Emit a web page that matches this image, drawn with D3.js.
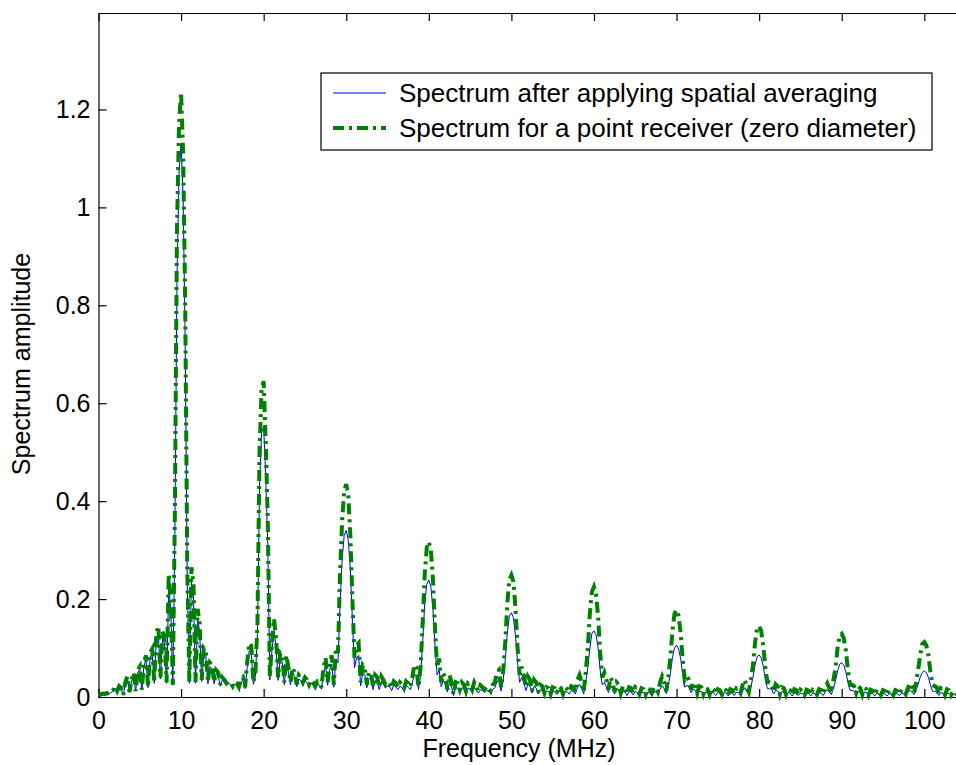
<!DOCTYPE html>
<html>
<head>
<meta charset="utf-8">
<script src="https://cdn.jsdelivr.net/npm/d3@7"></script>
<style>
  html, body { margin: 0; padding: 0; background: #fff; }
  svg { display: block; }
  text { font-family: "Liberation Sans", Arial, Helvetica, sans-serif; fill: #000; }
</style>
</head>
<body>
<script>
// Frequency grid: 0 to 104 MHz in 0.25 MHz steps
const freqStart = 0;
const freqStep = 0.25;

// Spectrum for a point receiver (zero diameter); each line holds 4 MHz
const pointSpectrum = [
  .006,.005,.007,.006,  .008,.006,.010,.014,  .020,.012,.022,.018,  .004,.030,.042,.010,
  .035,.050,.012,.055,  .062,.015,.070,.085,  .020,.090,.098,.030,  .130,.145,.040,.135,
  .120,.030,.250,.200,  .025,.380,.950,1.170, 1.235,1.110,.800,.260, .030,.265,.230,.030,
  .180,.150,.035,.100,  .095,.030,.070,.065,  .030,.055,.050,.025,  .040,.035,.028,.032,
  .030,.022,.030,.028,  .020,.035,.040,.020,  .070,.110,.105,.030,  .050,.150,.500,.630,
  .645,.520,.360,.040,  .110,.160,.120,.040,  .090,.085,.030,.085,  .060,.030,.060,.050,
  .025,.045,.040,.030,  .040,.035,.025,.035,  .030,.022,.032,.030,  .020,.060,.080,.030,
  .070,.085,.025,.100,  .090,.250,.360,.420,  .435,.410,.330,.200,  .080,.105,.110,.030,
  .065,.060,.025,.050,  .050,.020,.045,.040,  .020,.042,.035,.025,  .030,.028,.018,.032,
  .028,.020,.030,.026,  .018,.032,.028,.020,  .040,.066,.060,.020,  .060,.150,.250,.305,
  .317,.300,.240,.140,  .060,.079,.030,.048,  .040,.015,.045,.030,  .005,.030,.028,.015,
  .030,.025,.012,.028,  .025,.015,.030,.022,  .012,.024,.020,.015,  .022,.018,.012,.025,
  .030,.050,.055,.020,  .050,.110,.190,.240,  .249,.235,.180,.100,  .045,.062,.045,.020,
  .042,.035,.012,.035,  .030,.010,.025,.022,  .008,.020,.018,.006,  .020,.018,.008,.022,
  .018,.006,.020,.016,  .010,.022,.020,.010,  .035,.045,.030,.010,  .050,.100,.170,.215,
  .225,.210,.165,.090,  .040,.050,.035,.015,  .040,.030,.010,.030,  .025,.008,.022,.020,
  .006,.020,.018,.008,  .020,.016,.006,.018,  .016,.005,.018,.015,  .008,.020,.018,.010,
  .030,.042,.030,.012,  .040,.080,.135,.170,  .178,.165,.130,.075,  .035,.042,.035,.015,
  .030,.025,.008,.022,  .020,.006,.018,.016,  .005,.018,.015,.006,  .016,.014,.005,.016,
  .014,.004,.016,.014,  .006,.018,.016,.008,  .025,.035,.020,.010,  .035,.065,.110,.140,
  .145,.135,.105,.060,  .030,.030,.028,.010,  .026,.022,.006,.020,  .018,.005,.016,.014,
  .004,.016,.014,.005,  .015,.012,.004,.015,  .013,.004,.015,.013,  .005,.016,.014,.006,
  .020,.028,.018,.008,  .035,.060,.100,.125,  .129,.120,.095,.055,  .025,.025,.022,.008,
  .022,.018,.005,.018,  .016,.004,.015,.013,  .004,.015,.013,.004,  .014,.012,.004,.014,
  .012,.004,.014,.012,  .005,.015,.013,.006,  .018,.028,.020,.008,  .030,.055,.085,.108,
  .112,.105,.085,.050,  .025,.022,.020,.006,  .018,.015,.004,.016,  .014,.004,.012,.010,
  .004
];

// Spectrum after applying spatial averaging; each line holds 4 MHz
const averagedSpectrum = [
  .005,.004,.006,.005,  .007,.005,.009,.012,  .018,.011,.020,.016,  .004,.027,.038,.010,
  .032,.045,.012,.050,  .056,.014,.063,.077,  .019,.081,.088,.028,  .117,.130,.037,.121,
  .108,.028,.225,.180,  .024,.330,.850,1.070, 1.130,1.020,.720,.230, .028,.235,.205,.028,
  .160,.133,.032,.088,  .084,.027,.062,.057,  .027,.048,.044,.022,  .035,.030,.025,.028,
  .026,.019,.026,.024,  .018,.030,.034,.017,  .060,.094,.090,.026,  .043,.130,.430,.540,
  .552,.450,.310,.035,  .094,.136,.102,.034,  .076,.072,.025,.071,  .050,.025,.050,.042,
  .021,.037,.033,.025,  .033,.029,.020,.028,  .024,.018,.026,.024,  .016,.048,.064,.024,
  .056,.067,.020,.078,  .070,.190,.280,.330,  .340,.320,.260,.155,  .060,.080,.085,.023,
  .050,.046,.019,.038,  .038,.015,.034,.030,  .015,.032,.026,.019,  .022,.021,.013,.024,
  .021,.015,.022,.019,  .013,.024,.020,.015,  .029,.046,.042,.015,  .045,.110,.190,.230,
  .239,.225,.180,.105,  .045,.055,.021,.033,  .027,.010,.030,.020,  .003,.020,.018,.010,
  .019,.016,.008,.018,  .016,.010,.019,.014,  .008,.015,.013,.010,  .014,.011,.008,.016,
  .019,.031,.034,.012,  .035,.075,.130,.165,  .172,.162,.125,.070,  .030,.040,.029,.013,
  .026,.022,.008,.022,  .018,.006,.015,.013,  .005,.012,.011,.004,  .012,.011,.005,.013,
  .011,.004,.012,.010,  .006,.013,.012,.006,  .020,.026,.018,.006,  .030,.060,.100,.130,
  .135,.127,.100,.055,  .025,.030,.021,.009,  .023,.017,.006,.017,  .014,.005,.012,.011,
  .003,.011,.010,.004,  .011,.009,.003,.010,  .009,.003,.010,.008,  .004,.011,.010,.006,
  .016,.023,.017,.007,  .024,.048,.080,.100,  .106,.098,.078,.045,  .020,.024,.020,.009,
  .016,.014,.005,.012,  .011,.003,.010,.009,  .003,.010,.008,.003,  .009,.008,.003,.009,
  .008,.002,.009,.008,  .003,.010,.009,.005,  .013,.019,.011,.006,  .020,.040,.065,.082,
  .086,.080,.063,.036,  .017,.017,.016,.006,  .014,.012,.004,.011,  .010,.003,.009,.008,
  .002,.009,.008,.003,  .008,.007,.002,.008,  .007,.002,.008,.007,  .003,.009,.008,.003,
  .010,.015,.010,.005,  .018,.033,.053,.067,  .070,.065,.051,.030,  .014,.013,.012,.005,
  .011,.010,.003,.010,  .009,.002,.008,.007,  .002,.008,.007,.002,  .008,.006,.002,.007,
  .006,.002,.007,.006,  .003,.008,.007,.003,  .009,.014,.010,.005,  .014,.026,.040,.050,
  .053,.050,.040,.024,  .012,.011,.010,.003,  .009,.008,.002,.008,  .007,.002,.006,.005,
  .002
];

const xTicks = [0, 10, 20, 30, 40, 50, 60, 70, 80, 90, 100];
const yTicks = [0, 0.2, 0.4, 0.6, 0.8, 1, 1.2];
const seriesNames = [
  "Spectrum after applying spatial averaging",
  "Spectrum for a point receiver (zero diameter)"
];
const xLabel = "Frequency (MHz)";
const yLabel = "Spectrum amplitude";

const W = 956, H = 765;
const plotLeft = 98.5, plotTop = 13, plotBottom = 697;
const pxPerMHz = 8.258;
const xMax = 105;
const plotRight = plotLeft + xMax * pxPerMHz;

const x = d3.scaleLinear().domain([0, xMax]).range([plotLeft, plotRight]);
const y = d3.scaleLinear().domain([0, 1.397]).range([plotBottom, plotTop]);

const svg = d3.select("body").append("svg")
  .attr("width", W).attr("height", H)
  .attr("viewBox", `0 0 ${W} ${H}`);

svg.append("rect").attr("width", W).attr("height", H).attr("fill", "#fff");

const FONT = 25;
const LEGEND_FONT = 26;

// Axes with inward ticks (left, bottom, top)
const bottomAxis = d3.axisBottom(x).tickValues(xTicks).tickSizeInner(-8).tickSizeOuter(0)
  .tickPadding(14).tickFormat(d3.format("d"));
const gx = svg.append("g").attr("transform", `translate(0,${plotBottom})`).call(bottomAxis);

const topAxis = d3.axisTop(x).tickValues(xTicks).tickSizeInner(-8).tickSizeOuter(0).tickFormat("");
const gt = svg.append("g").attr("transform", `translate(0,${plotTop})`).call(topAxis);

const leftAxis = d3.axisLeft(y).tickValues(yTicks).tickSizeInner(-8).tickSizeOuter(0)
  .tickPadding(8).tickFormat(d => String(+d.toFixed(1)));
const gy = svg.append("g").attr("transform", `translate(${plotLeft},0)`).call(leftAxis);

[gx, gt, gy].forEach(g => {
  g.select(".domain").attr("stroke", "#000").attr("stroke-width", 1.2);
  g.selectAll(".tick line").attr("stroke", "#000").attr("stroke-width", 1.2);
  g.selectAll(".tick text").attr("font-size", FONT)
    .attr("font-family", "'Liberation Sans', Arial, sans-serif").attr("fill", "#000");
});
gx.selectAll(".tick text").attr("dy", "0.71em");

// Axis titles
svg.append("text")
  .attr("x", 519).attr("y", 757)
  .attr("text-anchor", "middle").attr("font-size", FONT)
  .text(xLabel);

svg.append("text")
  .attr("transform", `translate(30,364) rotate(-90)`)
  .attr("text-anchor", "middle").attr("font-size", FONT)
  .text(yLabel);

// Build point lists from the value arrays
const toPoints = arr => arr.map((v, i) => [freqStart + i * freqStep, v]);
const line = d3.line().x(d => x(d[0])).y(d => y(d[1]));

const plot = svg.append("g");

plot.append("path")
  .datum(toPoints(averagedSpectrum))
  .attr("d", line)
  .attr("fill", "none")
  .attr("stroke", "#0000ff")
  .attr("stroke-width", 1)
  .attr("stroke-linejoin", "round");

const greenDash = "11,5,3,5";
plot.append("path")
  .datum(toPoints(pointSpectrum))
  .attr("d", line)
  .attr("fill", "none")
  .attr("stroke", "#008000")
  .attr("stroke-width", 4)
  .attr("stroke-dasharray", greenDash)
  .attr("stroke-linejoin", "miter");

// Legend
const lg = svg.append("g");
lg.append("rect")
  .attr("x", 321).attr("y", 73).attr("width", 611).attr("height", 77)
  .attr("fill", "#fff").attr("stroke", "#000").attr("stroke-width", 1.2);

const rows = [
  { name: seriesNames[0], color: "#0000ff", width: 1, dash: null, cy: 93 },
  { name: seriesNames[1], color: "#008000", width: 4, dash: greenDash, cy: 128 }
];
rows.forEach(r => {
  lg.append("line")
    .attr("x1", 333).attr("x2", 386).attr("y1", r.cy).attr("y2", r.cy)
    .attr("stroke", r.color).attr("stroke-width", r.width)
    .attr("stroke-dasharray", r.dash);
  lg.append("text")
    .attr("x", 399).attr("y", r.cy).attr("dy", "0.35em")
    .attr("font-size", LEGEND_FONT)
    .text(r.name);
});
</script>
</body>
</html>
